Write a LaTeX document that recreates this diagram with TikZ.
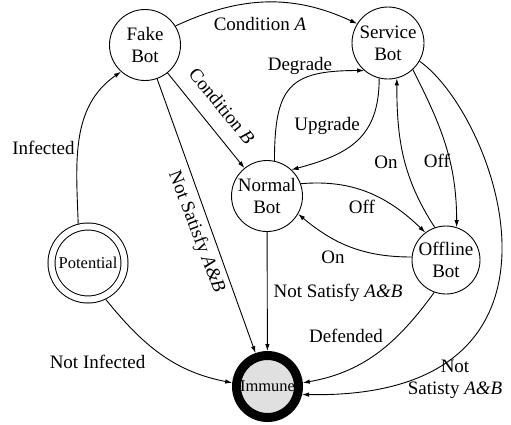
\documentclass[tikz,border=0pt]{standalone}
\usepackage{fontspec}
\setmainfont{Liberation Serif}
\usetikzlibrary{arrows.meta}
\begin{document}
\begin{tikzpicture}[x=1pt,y=1pt,
  every node/.style={font=\fontsize{19}{22}\selectfont},
  stnode/.style={circle,draw,line width=0.9pt,minimum size=71pt,inner sep=0pt,align=center},
  potnode/.style={circle,draw,line width=1pt,double,double distance=6pt,minimum size=73pt,inner sep=0pt,outer sep=4pt,font=\fontsize{16.5}{19}\selectfont},
  immnode/.style={circle,draw,line width=9pt,fill=black!12,minimum size=62pt,inner sep=0pt,font=\fontsize{16.5}{19}\selectfont},
  edge/.style={draw,line width=0.9pt,-{Latex[length=7pt,width=4.5pt]}},
  lbl/.style={inner sep=0pt,align=center}]
\useasboundingbox (0,0) rectangle (511,-424);
% states
\node[stnode] (F) at (145,-45) {Fake\\Bot};
\node[stnode,minimum size=72pt] (S) at (388,-43) {Service\\Bot};
\node[stnode] (N) at (267,-196) {Normal\\Bot};
\node[stnode,minimum size=68pt] (O) at (446,-260) {Offline\\Bot};
\node[potnode] (P) at (88,-263) {Potential};
\node[immnode] (I) at (267.5,-386.5) {Immune};
% connectors
\path[edge] (F.32) to[out=25,in=155] (S.148);
\path[edge] (F) -- (N);
\path[edge] (F) -- (I);
\path[edge] (P.104) to[out=92,in=215] (F.228);
\path[edge] (P.-64) to[out=-51,in=169] (I.174);
\path[edge] (N.78) to[out=90,in=180,looseness=1.5] (S.229);
\path[edge] (S.256) to[out=-90,in=15,looseness=1.2] (N.47);
\path[edge] (N.20) to[out=5,in=136] (O.127);
\path[edge] (O.175) to[out=180,in=-40] (N.-30);
\path[edge] (O.109) to[out=123,in=-90] (S.-76);
\path[edge] (S.-47) to[out=-63,in=90] (O.72);
\path[edge] (S.-30) .. controls (496,-115) and (600,-400) .. (I.-13);
\path[edge] (O.250) to[out=234,in=10] (I.6);
\path[edge] (N) -- (I);
% labels
\node[lbl] (lcA) at (260,-24) {Condition \textit{A}};
\node[lbl,rotate=-51] (lcB) at (222,-106) {Condition \textit{B}};
\node[lbl] (linf) at (43.5,-148) {Infected};
\node[lbl,rotate=-69] (lns1) at (196,-232) {Not Satisfy \textit{A\&B}};
\node[lbl] (ldeg) at (300,-66) {Degrade};
\node[lbl] (lupg) at (327,-126) {Upgrade};
\node[lbl] (lon1) at (386,-162) {On};
\node[lbl] (loff1) at (437,-161) {Off};
\node[lbl] (loff2) at (362,-207) {Off};
\node[lbl] (lon2) at (333,-257) {On};
\node[lbl] (lns2) at (338,-293) {Not Satisfy \textit{A\&B}};
\node[lbl] (ldef) at (346,-336) {Defended};
\node[lbl] (lns3) at (455,-379) {Not\\Satisty \textit{A\&B}};
\node[lbl] (lnotinf) at (97.5,-362) {Not Infected};
\end{tikzpicture}
\end{document}
